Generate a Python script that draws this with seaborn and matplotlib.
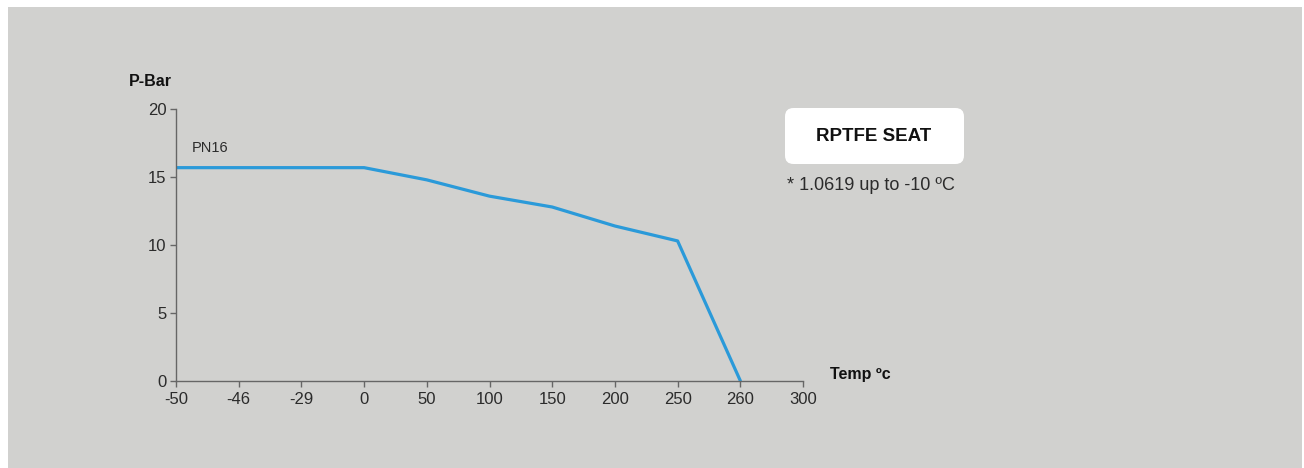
import seaborn as sns
import matplotlib.pyplot as plt
from matplotlib.patches import Rectangle, FancyBboxPatch

# pressure / temperature rating, RPTFE seat
temp_labels = ["-50", "-46", "-29", "0", "50", "100", "150", "200", "250", "260", "300"]
pressure = [15.7, 15.7, 15.7, 15.7, 14.8, 13.6, 12.8, 11.4, 10.3, 0.0]
y_ticks = [0, 5, 10, 15, 20]

sns.set_style("white")
plt.rcParams['font.family'] = ['Liberation Sans', 'DejaVu Sans']

bg = "#d1d1cf"
txt = "#2b2b2b"

fig = plt.figure(figsize=(13.04, 4.68), dpi=100, facecolor="white")
fig.patches.append(Rectangle((8 / 1304, 0), 1294 / 1304, 461 / 468,
                             transform=fig.transFigure, facecolor=bg,
                             edgecolor="none", zorder=-10))

ax = fig.add_axes([176 / 1304, 87.3 / 468, 627 / 1304, 271.4 / 468])
ax.set_facecolor("none")

pos = list(range(len(pressure)))
sns.lineplot(x=pos, y=pressure, ax=ax, color="#2b9ad9", linewidth=2.3)

ax.set_xlim(0, len(temp_labels) - 1)
ax.set_ylim(0, 20)
ax.set_xticks(range(len(temp_labels)))
ax.set_xticklabels(temp_labels)
ax.set_yticks(y_ticks)
for s in ["top", "right"]:
    ax.spines[s].set_visible(False)
for s in ["left", "bottom"]:
    ax.spines[s].set_color("#666666")
    ax.spines[s].set_linewidth(1.0)
ax.tick_params(axis="both", direction="out", length=4, width=1.0,
               bottom=True, left=True,
               color="#666666", labelcolor=txt, labelsize=12)
ax.tick_params(axis="x", pad=4)
ax.tick_params(axis="y", pad=3)
ax.set_xlabel("")
ax.set_ylabel("")

fig.text(150 / 1304, 1 - 81 / 468, "P-Bar", ha="center", va="center",
         fontsize=11.5, fontweight="bold", color="#111111")
fig.text(860 / 1304, 1 - 375 / 468, "Temp ºc", ha="center", va="center",
         fontsize=11.5, fontweight="bold", color="#111111")
ax.text(0.25, 16.6, "PN16", ha="left", va="bottom", fontsize=10.5, color=txt)

box = FancyBboxPatch((785 / 1304, 1 - 164 / 468), 179 / 1304, 56 / 468,
                     boxstyle="round,pad=0,rounding_size=0.0065",
                     transform=fig.transFigure, facecolor="white",
                     edgecolor="none", mutation_aspect=1304 / 468)
fig.patches.append(box)
fig.text(874 / 1304, 1 - 136 / 468, "RPTFE SEAT", ha="center", va="center",
         fontsize=13.5, fontweight="bold", color="#111111")
fig.text(787 / 1304, 1 - 186 / 468, "* 1.0619 up to -10 ºC", ha="left",
         va="center", fontsize=13, color=txt)

fig.savefig("out.png", dpi=100, facecolor=fig.get_facecolor())
